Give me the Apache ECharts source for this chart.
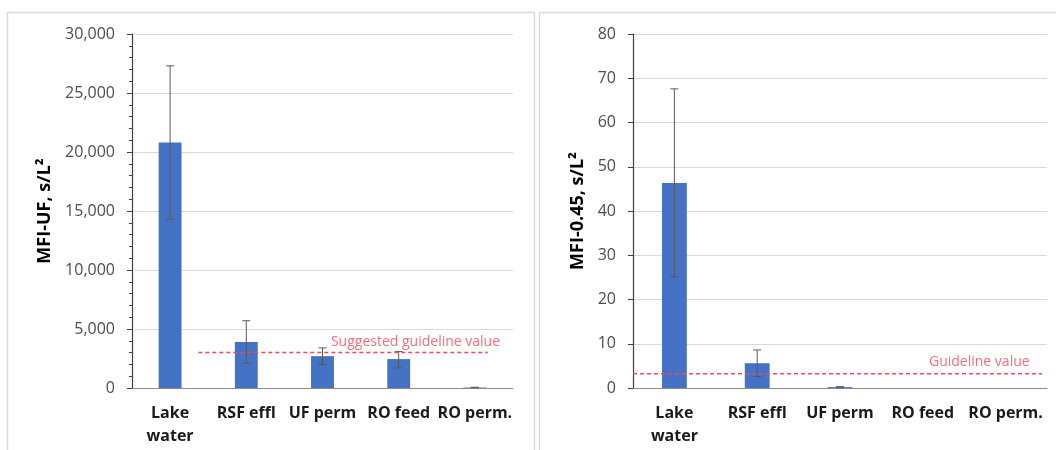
<!DOCTYPE html>
<html>
<head>
<meta charset="utf-8">
<script src="https://cdn.jsdelivr.net/npm/echarts@6/dist/echarts.min.js"></script>
<style>html,body{margin:0;padding:0;background:#fff}#c{width:1056px;height:450px}</style>
</head>
<body>
<div id="c"></div>
<script>
var categories = ['Lake\nwater', 'RSF effl', 'UF perm', 'RO feed', 'RO perm.'];
var mfiUF = [20800, 3900, 2700, 2450, 40];
var mfiUFLow = [14300, 2100, 2000, 1700, 20];
var mfiUFHigh = [27300, 5700, 3400, 3100, 60];
var mfi045 = [46.3, 5.6, 0.2, 0, 0];
var mfi045Low = [25.1, 2.6, 0.1, null, null];
var mfi045High = [67.6, 8.6, 0.3, null, null];
var guidelineUF = 3000;
var guideline045 = 3.2;
var guideUFSpan = [0.37, 4.17];
var guide045Span = [-0.5, 4.44];
var guideUFLabelX = 4.33;
var guide045LabelX = 4.29;
var yTicksUF = [0, 30000, 5000];
var yTicks045 = [0, 80, 10];

var FONT = 'Open Sans';
var BAR = '#4472C4';
var ERR = '#595959';
var RED = '#EE4A5C';

function errData(lo, hi) {
  var out = [];
  for (var i = 0; i < lo.length; i++) {
    if (lo[i] != null && hi[i] != null) out.push([i, lo[i], hi[i]]);
  }
  return out;
}
function errRender(params, api) {
  var i = api.value(0);
  var lo = api.coord([i, api.value(1)]);
  var hi = api.coord([i, api.value(2)]);
  var w = 4;
  var st = {stroke: ERR, lineWidth: 1};
  return {type: 'group', children: [
    {type: 'line', shape: {x1: lo[0], y1: lo[1], x2: hi[0], y2: hi[1]}, style: st},
    {type: 'line', shape: {x1: hi[0] - w, y1: hi[1], x2: hi[0] + w, y2: hi[1]}, style: st},
    {type: 'line', shape: {x1: lo[0] - w, y1: lo[1], x2: lo[0] + w, y2: lo[1]}, style: st}
  ]};
}
function catAxis(gi) {
  return {
    type: 'category', gridIndex: gi, data: categories,
    axisLine: {onZero: false, lineStyle: {color: '#8c8c8c', width: 1.2}},
    axisTick: {show: false},
    axisLabel: {fontFamily: FONT, fontWeight: 'bold', fontSize: 16, color: '#1a1a1a', margin: 14, lineHeight: 23, interval: 0}
  };
}
function hiddenX(gi) {
  return {type: 'value', gridIndex: gi, min: -0.5, max: 4.5, show: false};
}
function valAxis(gi, t, name, fmt, minor) {
  return {
    type: 'value', gridIndex: gi, min: t[0], max: t[1], interval: t[2],
    name: name, nameLocation: 'middle', nameGap: gi === 0 ? 78 : 46,
    nameTextStyle: {fontFamily: FONT, fontWeight: 'bold', fontSize: 18, color: '#000'},
    axisLine: {show: true, onZero: false, lineStyle: {color: '#404040', width: 1.2}},
    axisTick: {show: true, length: 5, lineStyle: {color: '#404040'}},
    minorTick: {show: minor, splitNumber: 5, length: 3, lineStyle: {color: '#404040'}},
    splitLine: {lineStyle: {color: '#d9d9d9', width: 1}},
    axisLabel: {fontFamily: FONT, fontSize: 16, color: '#4d4d4d', margin: 17, formatter: fmt}
  };
}
var fmtComma = function (v) { return v.toLocaleString('en-US'); };

var chart = echarts.init(document.getElementById('c'), null, {renderer: 'canvas'});
chart.setOption({
  animation: false,
  graphic: [
    {type: 'rect', shape: {x: 7.5, y: 12.5, width: 527, height: 460}, style: {fill: 'none', stroke: '#d9d9d9', lineWidth: 1.5}, z: -10},
    {type: 'rect', shape: {x: 539.5, y: 12.5, width: 540, height: 460}, style: {fill: 'none', stroke: '#d9d9d9', lineWidth: 1.5}, z: -10}
  ],
  grid: [
    {left: 132, top: 34, width: 381, height: 354},
    {left: 633, top: 34, width: 414, height: 354}
  ],
  xAxis: [catAxis(0), catAxis(1), hiddenX(0), hiddenX(1)],
  yAxis: [
    valAxis(0, yTicksUF, 'MFI-UF, s/L\u00B2', fmtComma, true),
    valAxis(1, yTicks045, 'MFI-0.45, s/L\u00B2', null, false)
  ],
  series: [
    {type: 'bar', xAxisIndex: 0, yAxisIndex: 0, data: mfiUF, barWidth: '30%', itemStyle: {color: BAR}},
    {type: 'bar', xAxisIndex: 1, yAxisIndex: 1, data: mfi045, barWidth: '30%', itemStyle: {color: BAR}},
    {type: 'custom', xAxisIndex: 0, yAxisIndex: 0, data: errData(mfiUFLow, mfiUFHigh), encode: {x: 0, y: [1, 2]}, renderItem: errRender, z: 5},
    {type: 'custom', xAxisIndex: 1, yAxisIndex: 1, data: errData(mfi045Low, mfi045High), encode: {x: 0, y: [1, 2]}, renderItem: errRender, z: 5},
    {type: 'line', xAxisIndex: 2, yAxisIndex: 0, symbol: 'none', silent: true, z: 6,
      data: [[guideUFSpan[0], guidelineUF], [guideUFSpan[1], guidelineUF]],
      lineStyle: {color: RED, width: 1.5, type: [4, 3]}},
    {type: 'line', xAxisIndex: 3, yAxisIndex: 1, symbol: 'none', silent: true, z: 6,
      data: [[guide045Span[0], guideline045], [guide045Span[1], guideline045]],
      lineStyle: {color: RED, width: 1.5, type: [4, 3]}},
    {type: 'scatter', xAxisIndex: 2, yAxisIndex: 0, symbolSize: 0, silent: true,
      data: [[guideUFLabelX, guidelineUF]],
      label: {show: true, position: 'left', distance: 0, offset: [0, -11], formatter: 'Suggested guideline value', fontFamily: FONT, fontSize: 14, color: RED}},
    {type: 'scatter', xAxisIndex: 3, yAxisIndex: 1, symbolSize: 0, silent: true,
      data: [[guide045LabelX, guideline045]],
      label: {show: true, position: 'left', distance: 0, offset: [0, -12], formatter: 'Guideline value', fontFamily: FONT, fontSize: 14, color: RED}}
  ]
});
</script>
</body>
</html>
